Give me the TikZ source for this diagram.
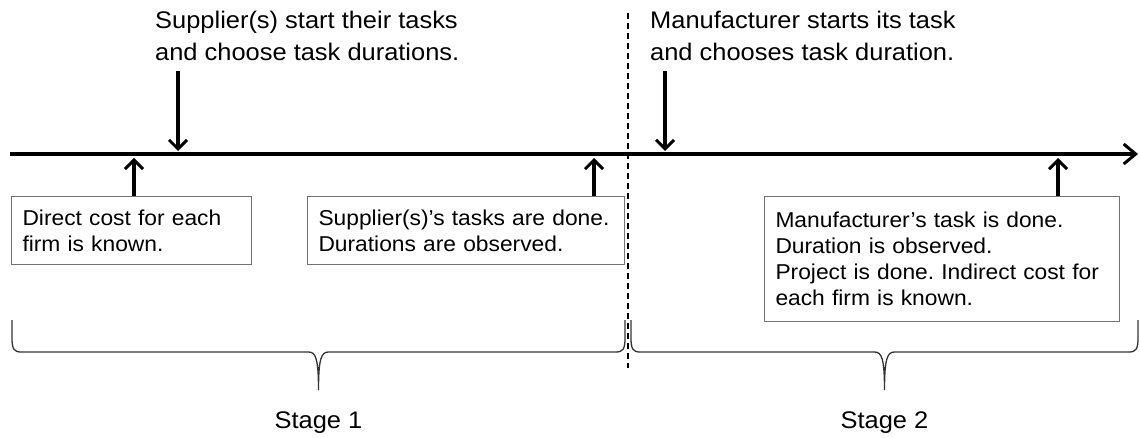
\documentclass[tikz,border=0pt]{standalone}
\usepackage{fontspec}
\setmainfont{Liberation Sans}[FakeStretch=1.06]
\frenchspacing
\usetikzlibrary{arrows.meta, positioning}
\tikzset{
        event/.style = {draw=black!55, line width=1pt,
            font=\fontsize{21.5}{26}\selectfont, align=left,
            anchor=north west, inner xsep=11pt, inner ysep=0pt},
        headline/.style = {font=\fontsize{24}{32}\selectfont, align=left,
            anchor=north west, inner sep=0pt},
        stage/.style = {font=\fontsize{24}{28}\selectfont, inner sep=0pt},
        evarrow/.style = {draw, line width=3.5pt,
            -{Straight Barb[length=9pt,width=18pt,line width=3pt]}},
        timeline/.style = {draw, line width=3.5pt,
            -{Straight Barb[length=12pt,width=20pt,line width=3pt]}},
        divider/.style = {draw, line width=1.4pt, dash pattern=on 6pt off 4pt},
        stagebrace/.style = {draw=black!80, line width=1.3pt},
}
\begin{document}
\begin{tikzpicture}[x=1pt, y=-1pt]
\useasboundingbox (0,0) rectangle (1140,438);
% time axis and stage divider
\coordinate (tstart) at (10,154);
\coordinate (tend) at (1138,154);
\draw [timeline] (tstart) -- (tend);
\coordinate (divtop) at (628,13);
\coordinate (divbot) at (628,368);
\draw [divider] (divtop) -- (divbot);

% decisions above the axis
\node [headline] (supstart) at (155,11) {Supplier(s) start their tasks\\and choose task durations.};
\node [headline] (manstart) at (650,11) {Manufacturer starts its task\\and chooses task duration.};
\coordinate (s1) at (178,151);
\coordinate (s2) at (665,151);
\draw [evarrow, shorten <=10pt] (s1 |- supstart.south) -- (s1);
\draw [evarrow, shorten <=10pt] (s2 |- manstart.south) -- (s2);

% information below the axis
\node [event, text width=218pt, minimum height=68pt] (directcost) at (11,196)
    {Direct cost for each\\firm is known.};
\node [event, text width=295pt, minimum height=68pt] (supdone) at (307,196)
    {Supplier(s)'s tasks are done.\\Durations are observed.};
\node [event, text width=333pt, minimum height=125pt] (mandone) at (764,196)
    {Manufacturer's task is done.\\Duration is observed.\\Project is done. Indirect cost for\\each firm is known.};
\coordinate (u1) at (134,158);
\coordinate (u2) at (594,158);
\coordinate (u3) at (1058,158);
\draw [evarrow] (u1 |- directcost.north) -- (u1);
\draw [evarrow] (u2 |- supdone.north) -- (u2);
\draw [evarrow] (u3 |- mandone.north) -- (u3);

% stages
\foreach \L/\R/\i in {12/625/1, 631/1138/2} {
    \pgfmathsetmacro\M{(\L+\R)/2}
    \draw [stagebrace] (\L,320) -- (\L,338) .. controls (\L,349) and (\L+2,352) .. (\L+9,352)
        -- (\M-10,352) .. controls (\M-3,352) and (\M,358) .. (\M,390)
        .. controls (\M,358) and (\M+3,352) .. (\M+10,352)
        -- (\R-9,352) .. controls (\R-2,352) and (\R,349) .. (\R,338) -- (\R,320);
    \coordinate (tip\i) at (\M,390);
    \node [stage, below=22pt of tip\i] (stage\i) {Stage \i};
}
\end{tikzpicture}
\end{document}
